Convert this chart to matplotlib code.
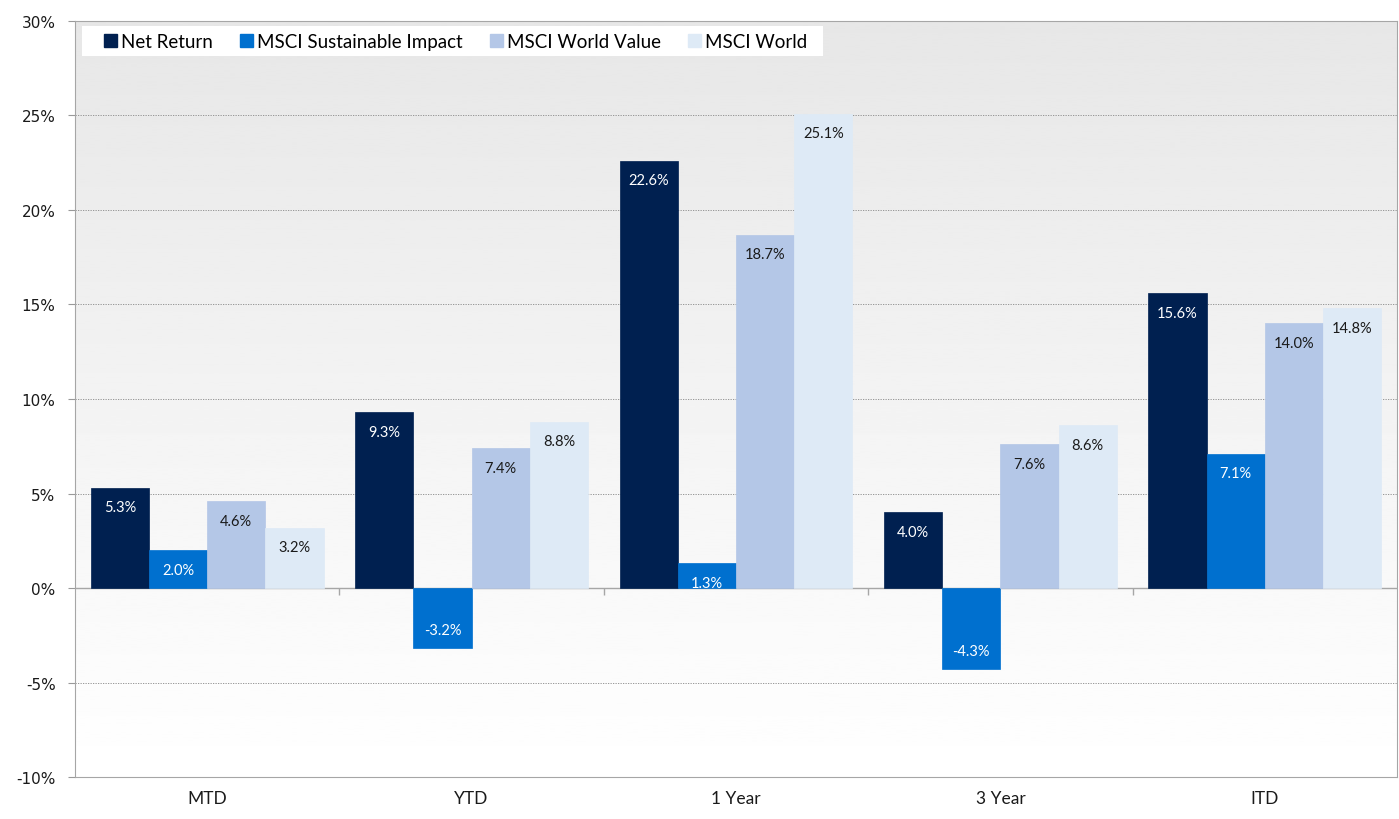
import matplotlib
matplotlib.use('Agg')
from matplotlib import pyplot as plt
from matplotlib.patches import Patch, Rectangle
import numpy as np

# data
categories = ["MTD", "YTD", "1 Year", "3 Year", "ITD"]
series_names = ["Net Return", "MSCI Sustainable Impact", "MSCI World Value", "MSCI World"]
net_return = [5.3, 9.3, 22.6, 4.0, 15.6]
sust_impact = [2.0, -3.2, 1.3, -4.3, 7.1]
world_value = [4.6, 7.4, 18.7, 7.6, 14.0]
world = [3.2, 8.8, 25.1, 8.6, 14.8]
yticks = [-10, -5, 0, 5, 10, 15, 20, 25, 30]

colors = ["#002050", "#0070CF", "#B4C7E7", "#DEEAF6"]
label_colors = ["white", "white", "#1a1a1a", "#1a1a1a"]

fig = plt.figure(figsize=(13.99, 8.2), dpi=100)
ax = fig.add_axes([0.0536, 0.0512, 0.9450, 0.9220])

x = np.arange(len(categories))
width = 0.22
all_series = [net_return, sust_impact, world_value, world]

# gradient background, grey at the top fading to white
grad = np.linspace(0.905, 1.0, 256).reshape(-1, 1)
ax.imshow(grad, cmap='gray', vmin=0, vmax=1, aspect='auto', origin='upper',
          extent=[-0.5, len(categories) - 0.5, -10, 30], zorder=0)

for i, (vals, col) in enumerate(zip(all_series, colors)):
    pos = x + (i - 1.5) * width
    bars = ax.bar(pos, vals, width, color=col, zorder=3, label=series_names[i],
                  edgecolor=col, linewidth=0.5)
    for b, v in zip(bars, vals):
        if v >= 0:
            ax.annotate("%.1f%%" % v, (b.get_x() + b.get_width() / 2, v),
                        xytext=(0, -9), textcoords='offset points',
                        ha='center', va='top', fontsize=10.5,
                        color=label_colors[i], family='Lato', zorder=4)
        else:
            ax.annotate("%.1f%%" % v, (b.get_x() + b.get_width() / 2, v),
                        xytext=(0, 8), textcoords='offset points',
                        ha='center', va='bottom', fontsize=10.5,
                        color=label_colors[i], family='Lato', zorder=4)

ax.set_xlim(-0.5, len(categories) - 0.5)
ax.set_ylim(-10, 30)
ax.set_yticks(yticks)
ax.set_yticklabels(["%d%%" % t for t in yticks], fontsize=11, color='#1a1a1a')
ax.set_xticks(x)
ax.set_xticklabels(categories, fontsize=12.5, family='Lato', color='#1a1a1a')
ax.tick_params(axis='x', length=0, pad=9)
ax.tick_params(axis='y', length=5, color='#999999', direction='out', pad=9)

for t in yticks[1:-1]:
    if t != 0:
        ax.axhline(t, color='#888888', linestyle=(0, (1.5, 1.5)), linewidth=0.6, zorder=1)
ax.axhline(0, color='#a6a6a6', linewidth=1.0, zorder=2)
# small ticks between categories on the zero line
ax.vlines(x[:-1] + 0.5, -0.35, 0, color='#a6a6a6', linewidth=1.0, zorder=2)

for s in ax.spines.values():
    s.set_color('#a6a6a6')

# white box behind the legend (wider than the legend's own frame)
ax.add_patch(Rectangle((0.0053, 0.9537), 0.5606, 0.0397, transform=ax.transAxes,
                       facecolor='white', edgecolor='none', zorder=5))

handles = [Patch(facecolor=c, edgecolor=c) for c in colors]
leg = ax.legend(handles, series_names, loc='upper left', ncol=4, frameon=False,
                bbox_to_anchor=(0.0165, 0.994),
                prop={'family': 'Lato', 'size': 13.5}, handlelength=0.7,
                handleheight=0.7, handletextpad=0.2, columnspacing=1.45,
                borderaxespad=0, borderpad=0.4)
leg.set_zorder(6)

plt.savefig("out.png", dpi=100)
